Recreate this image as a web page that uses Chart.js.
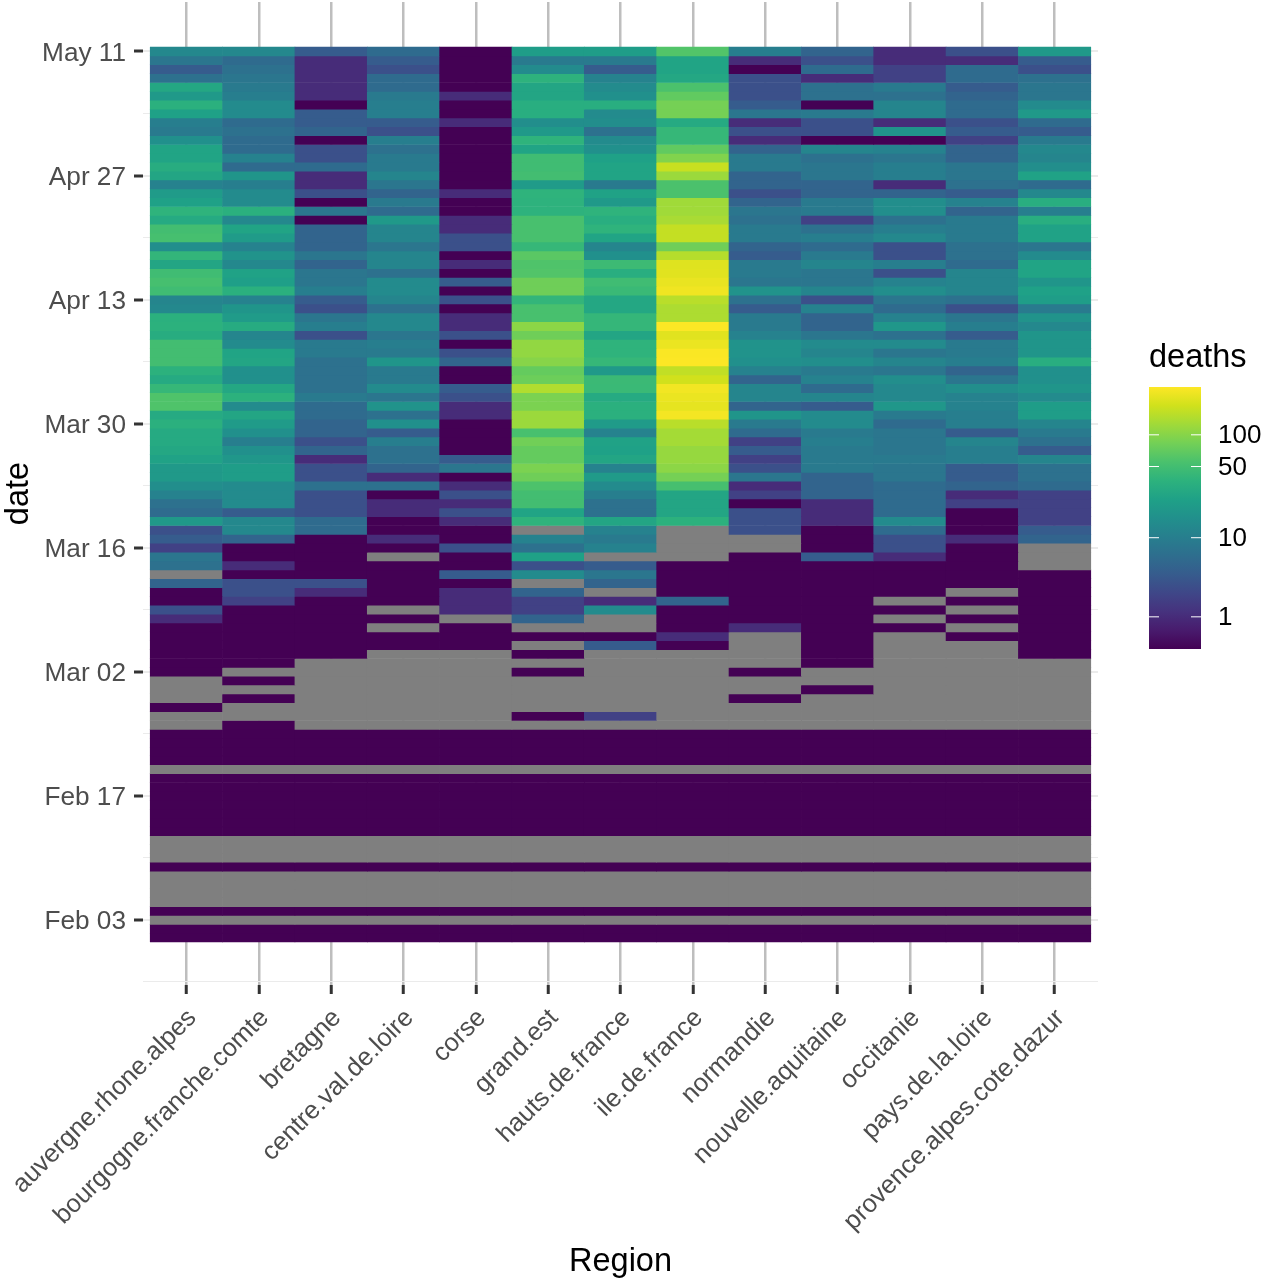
<!DOCTYPE html>
<html>
<head>
<meta charset="utf-8">
<title>deaths by region</title>
<script src="https://cdn.jsdelivr.net/npm/chart.js@4"></script>
<style>
    body { margin: 0; background: #fff; }
    canvas { display: block; }
</style>
</head>
<body>
<canvas id="heatmap" width="1263" height="1280"></canvas>
<script>
const regions = ['auvergne.rhone.alpes', 'bourgogne.franche.comte', 'bretagne', 'centre.val.de.loire', 'corse', 'grand.est',
    'hauts.de.france', 'ile.de.france', 'normandie', 'nouvelle.aquitaine', 'occitanie', 'pays.de.la.loire', 'provence.alpes.cote.dazur'];

// day number counts from Feb 1 = 0, last day May 11 = 100
const majorDays = [2, 16, 30, 44, 58, 72, 86, 100];
const majorLabels = ['Feb 03', 'Feb 17', 'Mar 02', 'Mar 16', 'Mar 30', 'Apr 13', 'Apr 27', 'May 11'];
const minorDays = [-5, 9, 23, 37, 51, 65, 79, 93];

const legendTicks = [1, 10, 50, 100];

// all series run newest first (May 11 down to Feb 1), null = no data
// the last 24 days of February look the same in every region
const febEnd = [0, 0, 0, 0, null, 0, 0, 0, 0, 0, 0, 0, null, null, null, 0, null, null, null, null, 0, null, 0, 0];

const auvergne = [13, 8, 4, 7, 28, 20, 35, 24, 10, 9, 16, 26, 26, 32, 27, 11, 21, 24, 38, 30,
    50, 52, 15, 40, 27, 48, 52, 48, 12, 13, 35, 36, 32, 50, 50, 50, 36, 30, 42, 58,
    58, 30, 35, 30, 30, 28, 25, 20, 20, 15, 11, 7, 6, 20, 3, 4, 2, 8, 7, null,
    5, 0, 0, 3, 1, 0, 0, 0, 0, 0, 0, null, null, null, 0, null, null, ...febEnd];
const bourgogne = [13, 6, 7, 8, 9, 10, 14, 14, 6, 7, 6, 6, 11, 6, 18, 10, 14, 14, 35, 13,
    26, 21, 11, 17, 13, 25, 23, 35, 11, 18, 21, 31, 12, 14, 26, 27, 16, 16, 28, 36,
    14, 27, 21, 16, 10, 16, 19, 22, 22, 14, 14, 14, 4, 13, 13, 5, 0, 0, 1, 0,
    3, 3, 2, 0, 0, 0, 0, 0, 0, 0, null, 0, null, 0, null, null, 0, ...febEnd];
const bretagne = [4, 1, 1, 1, 1, 1, 0, 4, 4, 5, 0, 3, 3, 6, 1, 1, 3, 0, 8, 0,
    5, 5, 5, 8, 5, 8, 8, 10, 4, 3, 8, 10, 3, 9, 9, 7, 7, 7, 7, 9,
    6, 6, 5, 5, 3, 5, 1, 3, 3, 7, 3, 3, 3, 6, 6, 0, 0, 0, 0, 0,
    3, 1, 0, 0, 0, 0, 0, 0, 0, null, null, null, null, null, null, null, null, ...febEnd];
const centre = [6, 4, 3, 6, 6, 9, 10, 10, 4, 3, 10, 7, 9, 9, 12, 8, 5, 9, 6, 20,
    12, 12, 8, 12, 12, 7, 14, 14, 12, 7, 13, 13, 8, 10, 9, 18, 9, 9, 14, 8,
    17, 7, 16, 4, 10, 7, 7, 5, 1, 7, 0, 1, 1, 0, 0, 1, 0, null, 0, 0,
    0, 0, 0, null, 0, null, 0, 0, null, null, null, null, null, null, null, null, null, ...febEnd];
const corse = [0, 0, 0, 0, 0, 1, 0, 0, 1, 0, 0, 0, 0, 0, 0, 0, 1, 0, 0, 1,
    1, 3, 3, 0, 1, 0, 4, 0, 3, 0, 1, 1, 3, 0, 3, 5, 0, 0, 4, 3,
    1, 1, 0, 0, 0, 0, 4, 8, 0, 1, 3, 1, 3, 1, 0, 0, 3, 0, 0, 4,
    0, 1, 1, 1, null, 0, 0, 0, null, null, null, null, null, null, null, null, null, ...febEnd];
const grandEst = [22, 9, 14, 37, 27, 27, 33, 33, 15, 20, 38, 26, 48, 48, 50, 21, 38, 37, 37, 54,
    54, 54, 42, 65, 58, 60, 80, 80, 40, 54, 54, 105, 80, 110, 110, 100, 72, 78, 145, 90,
    90, 120, 120, 54, 82, 72, 72, 90, 80, 57, 50, 50, 26, 38, null, 11, 7, 24, 3, 14,
    null, 5, 2, 2, 5, null, 0, null, 0, null, 0, null, null, null, null, 0, null, ...febEnd];
const hauts = [22, 9, 4, 11, 14, 16, 33, 14, 15, 7, 14, 16, 24, 26, 26, 9, 25, 20, 38, 33,
    38, 26, 12, 16, 46, 33, 48, 44, 28, 28, 41, 41, 27, 38, 38, 42, 20, 45, 44, 30,
    35, 35, 21, 11, 25, 24, 27, 11, 21, 14, 10, 7, 7, 27, 11, 9, 11, null, 4, 8,
    5, null, 1, 14, null, null, 0, 4, null, null, null, null, null, null, null, 2, null, ...febEnd];
const ile = [60, 26, 26, 28, 56, 70, 85, 85, 30, 42, 42, 70, 95, 175, 120, 56, 56, 125, 125, 135,
    170, 170, 80, 150, 215, 220, 235, 250, 155, 140, 140, 280, 220, 240, 275, 280, 165, 190, 255, 240,
    230, 260, 155, 130, 130, 115, 115, 105, 85, 52, 27, 27, 27, 36, null, null, null, null, 0, 0,
    0, 0, 5, 0, 0, 0, 1, 0, null, null, null, null, null, null, null, null, null, ...febEnd];
const normandie = [10, 1, 0, 3, 3, 3, 4, 8, 1, 3, 1, 5, 9, 9, 5, 5, 3, 5, 8, 7,
    9, 9, 5, 4, 9, 9, 8, 17, 7, 4, 9, 9, 11, 17, 17, 16, 11, 5, 12, 12,
    5, 18, 9, 6, 2, 4, 2, 3, 8, 1, 2, 0, 3, 3, 3, null, null, 0, 0, 0,
    0, 0, 0, 0, 0, 1, null, null, null, null, 0, null, null, 0, null, null, null, ...febEnd];
const nouvelle = [5, 3, 6, 1, 7, 7, 0, 9, 3, 3, 0, 12, 7, 8, 8, 5, 5, 9, 9, 2,
    7, 10, 6, 9, 12, 8, 8, 12, 3, 11, 5, 5, 8, 14, 12, 15, 9, 11, 6, 12,
    4, 14, 14, 9, 10, 9, 9, 9, 5, 5, 5, 1, 1, 1, 0, 0, 0, 4, 0, 0,
    0, 0, 0, 0, 0, 0, 0, 0, 0, 0, null, null, 0, null, null, null, null, ...febEnd];
const occitanie = [1, 1, 2, 2, 9, 7, 12, 12, 1, 17, 0, 11, 8, 10, 10, 1, 5, 15, 15, 7,
    10, 13, 3, 3, 10, 3, 11, 15, 8, 6, 11, 19, 7, 14, 8, 12, 8, 15, 13, 13,
    19, 9, 6, 8, 8, 8, 9, 8, 8, 6, 6, 6, 6, 14, 6, 3, 3, 1, 0, 0,
    0, 0, null, 0, null, 0, null, null, null, null, null, null, null, null, null, null, null, ...febEnd];
const pays = [3, 1, 6, 6, 4, 5, 6, 6, 3, 4, 2, 5, 5, 8, 8, 7, 4, 11, 5, 9,
    9, 9, 7, 7, 6, 12, 12, 12, 7, 3, 8, 10, 4, 9, 9, 10, 5, 8, 15, 11,
    11, 10, 10, 4, 12, 10, 10, 4, 4, 5, 1, 2, 0, 0, 0, 1, 0, 0, 0, 0,
    0, null, 0, null, 0, null, 0, null, null, null, null, null, null, null, null, null, null, ...febEnd];
const paca = [20, 4, 3, 7, 8, 8, 14, 20, 6, 4, 9, 13, 12, 15, 25, 6, 13, 33, 10, 33,
    25, 25, 8, 14, 26, 26, 18, 24, 22, 9, 17, 13, 18, 18, 18, 33, 16, 16, 18, 14,
    22, 22, 12, 9, 7, 4, 12, 7, 7, 6, 2, 2, 2, 2, 4, 5, null, null, null, 0,
    0, 0, 0, 0, 0, 0, 0, 0, 0, null, null, null, null, null, null, null, null, ...febEnd];

const series = [auvergne, bourgogne, bretagne, centre, corse, grandEst, hauts, ile, normandie, nouvelle, occitanie, pays, paca];

const viridis = ['#440154', '#481b6d', '#46327e', '#3f4788', '#365c8d', '#2e6e8e', '#277f8e', '#21908c',
    '#1fa187', '#2db27d', '#4ac16d', '#73d056', '#a0da39', '#d0e11c', '#fde725'];
const naColor = '#7f7f7f';
const maxDeaths = 282;

const hexToRgb = (hex) => [1, 3, 5].map(i => parseInt(hex.slice(i, i + 2), 16));

// same log(x + 1) colour scale as the legend
const rampColor = (t) => {
    const pos = Math.min(Math.max(t, 0), 1) * (viridis.length - 1);
    const i = Math.min(Math.floor(pos), viridis.length - 2);
    const a = hexToRgb(viridis[i]);
    const b = hexToRgb(viridis[i + 1]);
    const c = a.map((v, k) => Math.round(v + (b[k] - v) * (pos - i)));
    return `rgb(${c[0]},${c[1]},${c[2]})`;
};
const logPos = (v) => Math.log10(v + 1) / Math.log10(maxDeaths + 1);
const deathColor = (v) => (v === null ? naColor : rampColor(logPos(v)));

// one floating bar per region for each day
const datasets = series[0].map((_, row) => {
    const day = 100 - row;
    return {
        label: `day ${day}`,
        data: regions.map((_, i) => ({ x: i, y: [day - 0.5, day + 0.5] })),
        backgroundColor: series.map(s => deathColor(s[row])),
        borderWidth: 0
    };
});

const colorBar = {
    id: 'colorBar',
    afterDraw(chart) {
        const ctx = chart.ctx;
        const left = 1149, right = 1201, top = 387, bottom = 649;
        const grad = ctx.createLinearGradient(0, bottom, 0, top);
        viridis.forEach((c, i) => grad.addColorStop(i / (viridis.length - 1), c));
        ctx.save();
        ctx.fillStyle = grad;
        ctx.fillRect(left, top, right - left, bottom - top);

        ctx.fillStyle = '#000';
        ctx.font = '32.5px "Liberation Sans"';
        ctx.textAlign = 'left';
        ctx.textBaseline = 'alphabetic';
        ctx.fillText('deaths', left, 367);

        ctx.font = '26px "Liberation Sans"';
        ctx.textBaseline = 'middle';
        legendTicks.forEach(v => {
            const y = bottom - logPos(v) * (bottom - top);
            ctx.strokeStyle = '#fff';
            ctx.lineWidth = 1;
            ctx.beginPath();
            ctx.moveTo(left, y);
            ctx.lineTo(left + 10, y);
            ctx.moveTo(right - 10, y);
            ctx.lineTo(right, y);
            ctx.stroke();
            ctx.fillText(String(v), 1218, y + 1);
        });
        ctx.restore();
    }
};

Chart.defaults.font.family = '"Liberation Sans", Arial, sans-serif';

new Chart(document.getElementById('heatmap').getContext('2d'), {
    type: 'bar',
    data: { datasets },
    plugins: [colorBar],
    options: {
        responsive: false,
        animation: false,
        layout: { padding: { top: 2, right: 165, bottom: 0, left: 0 } },
        datasets: { bar: { grouped: false, barPercentage: 1, categoryPercentage: 1 } },
        plugins: { legend: { display: false }, tooltip: { enabled: false } },
        scales: {
            x: {
                type: 'linear',
                min: -0.6,
                max: 12.6,
                offset: false,
                afterBuildTicks: (scale) => { scale.ticks = regions.map((_, i) => ({ value: i })); },
                afterFit: (scale) => {
                    scale.height = 295;
                    scale.paddingLeft = 0;
                    scale.paddingRight = 0;
                },
                border: { display: false },
                grid: { offset: false, color: '#bebebe', lineWidth: 2.5, tickColor: '#333', tickLength: 9, tickWidth: 3 },
                ticks: {
                    autoSkip: false,
                    minRotation: 45,
                    maxRotation: 45,
                    padding: 9,
                    labelOffset: 6,
                    color: '#4d4d4d',
                    font: { size: 25.6 },
                    callback: (value) => regions[value]
                },
                title: { display: true, text: 'Region', color: '#000', font: { size: 32.5 }, padding: { top: 0, bottom: -2 } }
            },
            y: {
                type: 'linear',
                min: -5.35,
                max: 105.58,
                afterBuildTicks: (scale) => {
                    scale.ticks = majorDays.concat(minorDays).sort((a, b) => a - b).map(value => ({ value }));
                },
                afterFit: (scale) => {
                    scale.width = 143;
                    scale.paddingTop = 0;
                    scale.paddingBottom = 0;
                },
                border: { display: false },
                grid: {
                    color: '#ebebeb',
                    lineWidth: (c) => (majorDays.includes(c.tick.value) ? 2 : 1),
                    tickColor: (c) => (majorDays.includes(c.tick.value) ? '#333' : 'rgba(0,0,0,0)'),
                    tickLength: 9,
                    tickWidth: 3
                },
                ticks: {
                    autoSkip: false,
                    padding: 8,
                    labelOffset: 2,
                    color: '#4d4d4d',
                    font: { size: 26.2 },
                    callback: (value) => {
                        const i = majorDays.indexOf(value);
                        return i < 0 ? '' : majorLabels[i];
                    }
                },
                title: { display: true, text: 'date', color: '#000', font: { size: 32.5 }, padding: { top: 0, bottom: 2 } }
            }
        }
    }
});
</script>
</body>
</html>
